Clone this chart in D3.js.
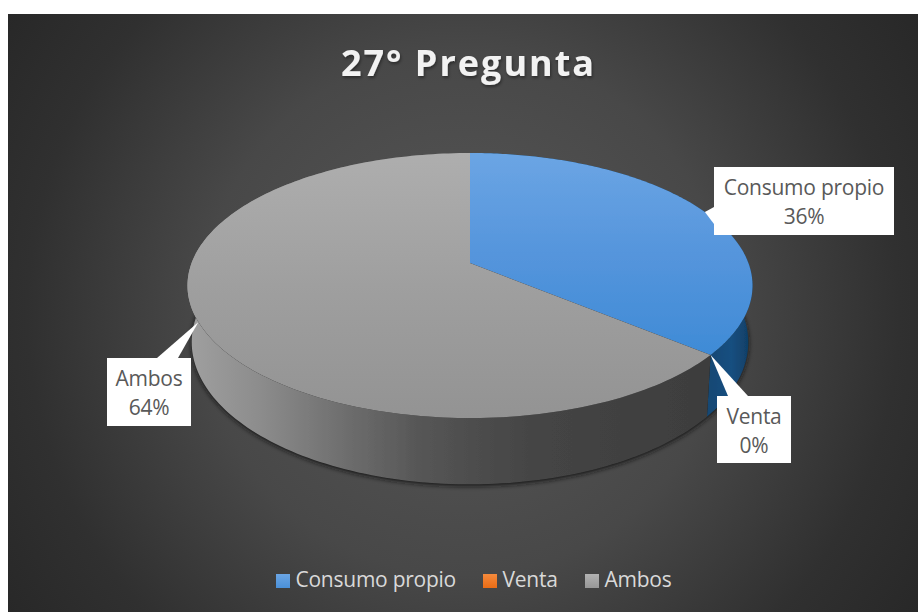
<!DOCTYPE html>
<html>
<head>
<meta charset="utf-8">
<script src="https://cdn.jsdelivr.net/npm/d3@7/dist/d3.min.js"></script>
<style>
html,body{margin:0;padding:0;background:#fff;overflow:hidden}
svg{display:block;font-family:"Open Sans",sans-serif}
</style>
</head>
<body>
<svg id="chart" width="918" height="612"></svg>
<script>
const chartTitle = "27° Pregunta";
const categories = ["Consumo propio", "Venta", "Ambos"];
const shareValues = [36, 0, 64];

const W = 918, H = 612;
const svg = d3.select("#chart");
const defs = svg.append("defs");

function linear(id, x1, y1, x2, y2, stops) {
  const g = defs.append("linearGradient").attr("id", id)
    .attr("gradientUnits", "userSpaceOnUse")
    .attr("x1", x1).attr("y1", y1).attr("x2", x2).attr("y2", y2);
  stops.forEach(s => g.append("stop").attr("offset", s[0]).attr("stop-color", s[1]));
}

const bg = defs.append("radialGradient").attr("id", "bg")
  .attr("gradientUnits", "userSpaceOnUse")
  .attr("cx", 463).attr("cy", 313).attr("r", 545);
[[0, "#585858"], [.48, "#484848"], [.8, "#303030"], [1, "#282828"]]
  .forEach(s => bg.append("stop").attr("offset", s[0]).attr("stop-color", s[1]));

linear("topBlue", 0, 153, 0, 355, [[0, "#6ba5e4"], [.5, "#5595dc"], [1, "#3f8bd6"]]);
linear("topOrange", 0, 153, 0, 418, [[0, "#f58a3c"], [1, "#ea6c15"]]);
linear("topGray", 0, 153, 0, 418, [[0, "#aeaeae"], [.5, "#9f9f9f"], [1, "#939393"]]);
linear("sideBlue", 700, 0, 752, 0, [[0, "#11456f"], [.6, "#174f80"], [1, "#0f3c62"]]);
linear("sideOrange", 700, 0, 752, 0, [[0, "#8a3f10"], [1, "#8a3f10"]]);
linear("sideGray", 187, 0, 712, 0, [[0, "#a0a0a0"], [.14, "#8c8c8c"], [.3, "#6e6e6e"], [.45, "#555555"], [.65, "#454545"], [1, "#3d3d3d"]]);
linear("legBlue", 0, 574, 0, 588, [[0, "#6ba5e4"], [1, "#4a90d9"]]);
linear("legOrange", 0, 574, 0, 588, [[0, "#f58a3c"], [1, "#ea6c15"]]);
linear("legGray", 0, 574, 0, 588, [[0, "#b2b2b2"], [1, "#979797"]]);

defs.append("filter").attr("id", "blurShadow").attr("x", "-10%").attr("y", "-10%").attr("width", "120%").attr("height", "120%")
  .append("feGaussianBlur").attr("stdDeviation", 2.5);
defs.append("filter").attr("id", "soft").attr("x", "-2%").attr("y", "-2%").attr("width", "104%").attr("height", "104%")
  .append("feGaussianBlur").attr("stdDeviation", 0.7);
defs.append("filter").attr("id", "titleShadow").attr("x", "-5%").attr("y", "-20%").attr("width", "110%").attr("height", "140%")
  .append("feDropShadow").attr("dx", 1).attr("dy", 2).attr("stdDeviation", 1.5)
  .attr("flood-color", "#000").attr("flood-opacity", .4);

svg.append("rect").attr("x", 8).attr("y", 14).attr("width", W - 8).attr("height", H - 14).attr("fill", "url(#bg)");

svg.append("text").attr("x", 468.5).attr("y", 76).attr("text-anchor", "middle")
  .attr("font-size", 36).attr("font-weight", 700).attr("letter-spacing", 2.0)
  .attr("fill", "#f2f2f2").attr("filter", "url(#titleShadow)").text(chartTitle);

// Perspective projection of a flat disc, fitted to the picture
const cx = 470, cy = 263, fx = 278.4, fy = 128.7, k = 0.17, depth = 55;
function project(a, lower) {
  const u = Math.sin(a), v = -Math.cos(a), w = 1 - k * v;
  return lower
    ? [cx + 0.985 * fx * u / w, cy + (fy * v + depth) / w]
    : [cx + fx * u / w, cy + fy * v / w];
}
const line = d3.line().curve(d3.curveLinear);
const rim = (a0, a1, lower) => d3.range(0, 181).map(i => project(a0 + (a1 - a0) * i / 180, lower));

const arcs = d3.pie().sort(null).value(d => d)(shareValues);
const topFills = ["url(#topBlue)", "url(#topOrange)", "url(#topGray)"];
const sideFills = ["url(#sideBlue)", "url(#sideOrange)", "url(#sideGray)"];

// shadow below the disc
svg.append("path").attr("d", line(rim(0, 2 * Math.PI, true).map(p => [p[0], p[1] + 1.5])) + "Z")
  .attr("fill", "#141414").attr("filter", "url(#blurShadow)");

const pie = svg.append("g").attr("filter", "url(#soft)");
pie.selectAll("path.side").data(arcs).join("path").attr("class", "side")
  .attr("d", d => line(rim(d.startAngle, d.endAngle, false).concat(rim(d.endAngle, d.startAngle, true))) + "Z")
  .attr("fill", (d, i) => sideFills[i]);
pie.selectAll("path.top").data(arcs).join("path").attr("class", "top")
  .attr("d", d => line([[cx, cy]].concat(rim(d.startAngle, d.endAngle, false))) + "Z")
  .attr("fill", (d, i) => topFills[i]);

// data label callouts
const labelBoxes = [
  {x: 714, y: 167, w: 180, h: 68, base: [[714, 207], [714, 224]], t: [195, 224]},
  {x: 717, y: 396, w: 74, h: 67, base: [[728, 396], [748, 396]], t: [424, 453]},
  {x: 107, y: 358, w: 84, h: 68, base: [[157, 358], [178, 358]], t: [386, 415]}
];
const labels = svg.append("g").selectAll("g").data(arcs).join("g");
labels.append("rect")
  .attr("x", (d, i) => labelBoxes[i].x).attr("y", (d, i) => labelBoxes[i].y)
  .attr("width", (d, i) => labelBoxes[i].w).attr("height", (d, i) => labelBoxes[i].h)
  .attr("fill", "#fff");
labels.append("path").attr("fill", "#fff").attr("d", (d, i) => {
  const mid = (d.startAngle + d.endAngle) / 2;
  return line([project(mid, false)].concat(labelBoxes[i].base)) + "Z";
});
const pct = d3.format(".0%");
const total = d3.sum(shareValues);
labels.append("text").attr("text-anchor", "middle").attr("font-size", 21).attr("letter-spacing", -0.25).attr("fill", "#595959")
  .attr("x", (d, i) => labelBoxes[i].x + labelBoxes[i].w / 2).attr("y", (d, i) => labelBoxes[i].t[0])
  .text((d, i) => categories[i]);
labels.append("text").attr("text-anchor", "middle").attr("font-size", 21).attr("letter-spacing", -0.25).attr("fill", "#595959")
  .attr("x", (d, i) => labelBoxes[i].x + labelBoxes[i].w / 2).attr("y", (d, i) => labelBoxes[i].t[1])
  .text(d => pct(d.value / total));

// legend
const legFills = ["url(#legBlue)", "url(#legOrange)", "url(#legGray)"];
const legX = d3.scaleOrdinal().domain(categories).range([276, 483, 585]);
const leg = svg.append("g").selectAll("g").data(categories).join("g");
leg.append("rect").attr("x", d => legX(d)).attr("y", 574).attr("width", 14).attr("height", 14)
  .attr("fill", (d, i) => legFills[i]);
leg.append("text").attr("x", d => legX(d) + 19.5).attr("y", 587).attr("font-size", 21).attr("letter-spacing", -0.25)
  .attr("fill", "#d9d9d9").text(d => d);
</script>
</body>
</html>
